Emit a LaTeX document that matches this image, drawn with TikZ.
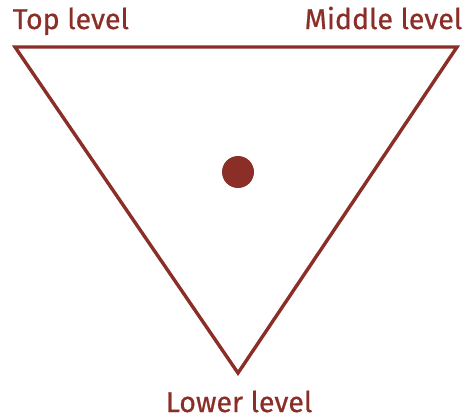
\documentclass[tikz,border=0pt]{standalone}
\usepackage{fontspec}
\setmainfont{Fira Sans}[UprightFeatures={FakeBold=0.6}]
\usetikzlibrary{positioning}
\definecolor{maroon}{RGB}{139,46,40}

\begin{document}
\begin{tikzpicture}[x=0.5pt, y=-0.5pt, thick,
        level/.style={text=maroon, font=\fontsize{14.3}{17}\selectfont, inner sep=0pt},
        edge/.style={draw=maroon, line width=1.7pt, line join=miter}]
        \useasboundingbox (0,0) rectangle (465,419);

        \coordinate (top) at (15,47);
        \coordinate (mid) at (457,47);
        \coordinate (low) at (238,373);
        \node [level, anchor=base west] (toplab) at (12,29) {Top level};
        \node [level, anchor=base east] (midlab) at (463,29) {Middle level};
        \node [level, anchor=base] (lowlab) at (239,412) {Lower level};
        \fill [maroon] (238,172) circle (16);

        \draw [edge] (top) -- (mid) -- (low) -- cycle;
    \end{tikzpicture}
\end{document}
